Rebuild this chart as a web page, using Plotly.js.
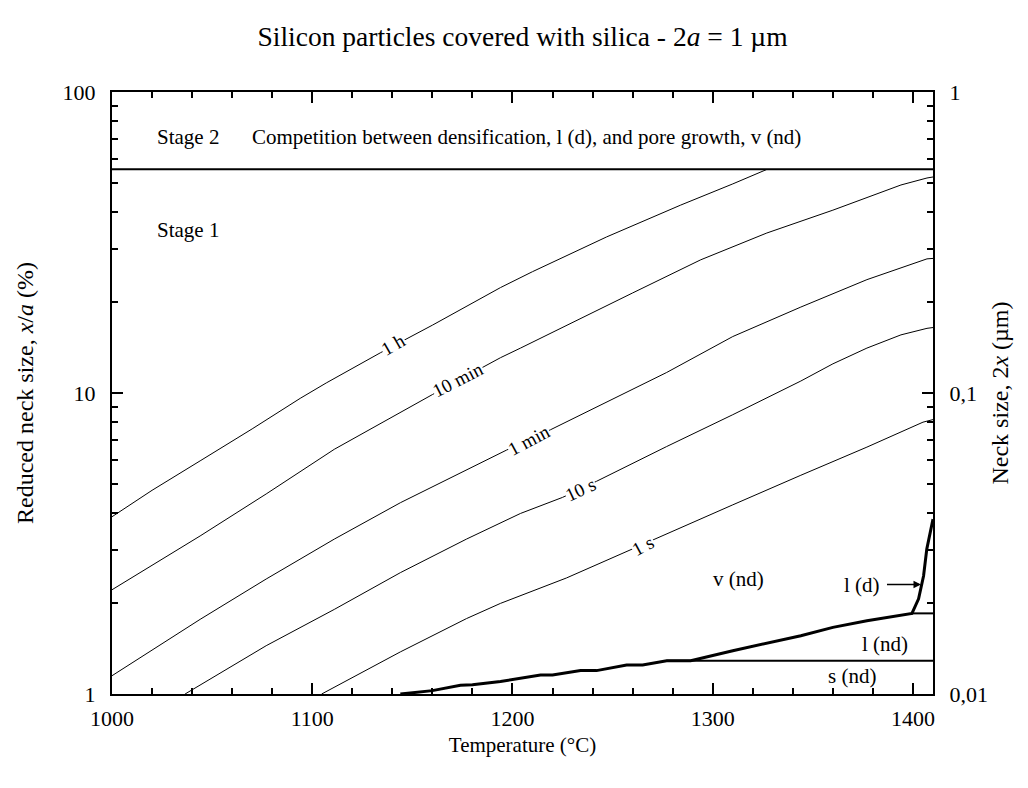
<!DOCTYPE html>
<html>
<head>
<meta charset="utf-8">
<script src="https://cdn.plot.ly/plotly-3.0.1.min.js"></script>
<style>html,body{margin:0;padding:0;background:#fff}</style>
</head>
<body>
<div id="chart" style="width:1028px;height:788px"></div>
<script>
// ---- Data ----
// iso-time curves: temperature (°C) and reduced neck size x/a (%)
const t1hX   = [1000, 1020, 1044, 1070, 1094, 1107, 1134, 1147, 1160, 1194, 1210, 1247, 1284, 1310, 1327];
const t1hY   = [3.88, 4.75, 5.95, 7.6, 9.6, 10.8, 13.6, 15.1, 16.8, 22.4, 25.3, 33.0, 42.1, 49.5, 55.3];
const t10mX  = [1000, 1044, 1077, 1111, 1160, 1194, 1204, 1227, 1260, 1294, 1327, 1360, 1394, 1407, 1410];
const t10mY  = [2.22, 3.35, 4.62, 6.5, 9.88, 13.1, 14.1, 16.8, 21.5, 27.7, 34.0, 40.5, 49.1, 51.8, 52.2];
const t1mX   = [1000, 1044, 1077, 1111, 1144, 1177, 1197, 1219, 1244, 1267, 1277, 1310, 1344, 1377, 1394, 1407, 1410];
const t1mY   = [1.15, 1.77, 2.41, 3.27, 4.32, 5.56, 6.46, 7.55, 9.12, 10.84, 11.7, 15.4, 19.3, 23.8, 26.0, 27.9, 28.0];
const t10sX  = [1036.5, 1077, 1111, 1144, 1177, 1194, 1204, 1225, 1242, 1277, 1310, 1344, 1360, 1377, 1394, 1407, 1410];
const t10sY  = [1.0, 1.447, 1.91, 2.53, 3.27, 3.70, 3.98, 4.50, 5.09, 6.64, 8.47, 10.96, 12.5, 14.1, 15.6, 16.4, 16.5];
const t1sX   = [1104.7, 1144, 1177, 1194, 1227, 1259, 1271, 1310, 1344, 1377, 1405, 1410];
const t1sY   = [1.0, 1.38, 1.78, 2.0, 2.43, 3.02, 3.27, 4.25, 5.33, 6.61, 8.0, 8.16];

// mechanism boundary (v(nd) / l(nd), then l(d))
const boundX = [1144, 1160, 1174, 1180, 1194, 1204, 1214, 1220, 1234, 1242, 1257, 1265, 1277, 1289, 1310, 1344, 1360, 1377, 1399.5, 1402.8, 1405.3, 1406.9, 1410];
const boundY = [1.0, 1.026, 1.07, 1.073, 1.10, 1.127, 1.157, 1.157, 1.196, 1.196, 1.249, 1.249, 1.29, 1.29, 1.393, 1.562, 1.665, 1.752, 1.853, 2.07, 2.47, 3.03, 3.81];

// horizontal boundaries
const ldBaseX = [1399.5, 1410];
const ldBaseY = [1.853, 1.853];
const snX = [1277, 1410];
const snY = [1.29, 1.29];
const stage2X = [1000, 1410];
const stage2Y = [55.4, 55.4];

// curve labels
const curveLabels = ['1 h', '10 min', '1 min', '10 s', '1 s'];
const labelX = [1140.5, 1173, 1208, 1234, 1265.4];
const labelY = [14.5, 11.07, 6.95, 4.78, 3.12];
const labelAngle = [-30, -27, -28, -25, -28];

// axis ticks
const xTicks = [1000, 1100, 1200, 1300, 1400];
const yTicks = [1, 10, 100];
const yTickText = ['1', '10', '100'];
const y2Ticks = [0.01, 0.1, 1];
const y2TickText = ['0,01', '0,1', '1'];

// ---- Plot ----
const FONT = 'Liberation Serif, Times New Roman, serif';
const thin = {color: '#000', width: 1};
const traces = [
  {x: t1hX, y: t1hY, mode: 'lines', line: thin},
  {x: t10mX, y: t10mY, mode: 'lines', line: thin},
  {x: t1mX, y: t1mY, mode: 'lines', line: thin},
  {x: t10sX, y: t10sY, mode: 'lines', line: thin},
  {x: t1sX, y: t1sY, mode: 'lines', line: thin},
  {x: boundX, y: boundY, mode: 'lines', line: {color: '#000', width: 3}},
  {x: ldBaseX, y: ldBaseY, mode: 'lines', line: {color: '#000', width: 2}},
  {x: snX, y: snY, mode: 'lines', line: {color: '#000', width: 2}},
  {x: stage2X, y: stage2Y, mode: 'lines', line: {color: '#000', width: 2}},
  {x: [1000], y: [0.05], yaxis: 'y2', mode: 'markers', marker: {opacity: 0}, hoverinfo: 'skip'}
];

const annotations = curveLabels.map((t, i) => ({
  x: labelX[i], y: Math.log10(labelY[i]), text: t, showarrow: false,
  textangle: labelAngle[i], bgcolor: '#fff', borderpad: 0,
  font: {family: FONT, size: 19, color: '#000'}
}));
const txt = (x, y, t, xa) => ({x: x, y: Math.log10(y), text: t, showarrow: false,
  xanchor: xa || 'center', yanchor: 'middle', font: {family: FONT, size: 21, color: '#000'}});
annotations.push(txt(1021.5, 70.8, 'Stage 2', 'left'));
annotations.push(txt(1069, 70.8, 'Competition between densification, l (d), and pore growth, v (nd)', 'left'));
annotations.push(txt(1021.5, 34.8, 'Stage 1', 'left'));
annotations.push(txt(1312.7, 2.41, 'v (nd)'));
annotations.push(txt(1385.8, 1.466, 'l (nd)'));
annotations.push(txt(1369.6, 1.15, 's (nd)'));
annotations.push({x: 1404, y: Math.log10(2.31), text: 'l (d) ', showarrow: true,
  ax: -34, ay: 0, xanchor: 'right', arrowhead: 2, arrowsize: 1, arrowwidth: 1.5,
  arrowcolor: '#000', standoff: 0, font: {family: FONT, size: 21, color: '#000'}});

const axisCommon = {
  showgrid: false, zeroline: false, showline: true, linecolor: '#000', linewidth: 2,
  ticks: 'inside', ticklen: 11, tickwidth: 2, tickcolor: '#000',
  tickfont: {family: FONT, size: 22, color: '#000'}
};

const layout = {
  width: 1028, height: 788,
  margin: {l: 112, r: 95, t: 92, b: 94},
  paper_bgcolor: '#fff', plot_bgcolor: '#fff',
  showlegend: false,
  font: {family: FONT, color: '#000'},
  title: {text: 'Silicon particles covered with silica - 2<i>a</i> = 1 µm',
    x: 0.5, xref: 'paper', xanchor: 'center', y: 1 - 36 / 788, yref: 'container', yanchor: 'middle',
    font: {family: FONT, size: 27.5, color: '#000'}},
  xaxis: Object.assign({}, axisCommon, {
    range: [1000, 1410], tickmode: 'array', tickvals: xTicks, mirror: 'ticks',
    ticklabelstandoff: 4,
    minor: {dtick: 20, ticks: 'inside', ticklen: 6, tickwidth: 2, tickcolor: '#000', showgrid: false},
    title: {text: 'Temperature (°C)', standoff: 7, font: {family: FONT, size: 21, color: '#000'}}
  }),
  yaxis: Object.assign({}, axisCommon, {
    type: 'log', range: [0, 2], tickmode: 'array', tickvals: yTicks, ticktext: yTickText,
    ticklabelstandoff: 10,
    minor: {dtick: 'D1', ticks: 'inside', ticklen: 6, tickwidth: 2, tickcolor: '#000', showgrid: false},
    title: {text: 'Reduced neck size, <i>x</i>/<i>a</i> (%)', standoff: 22, font: {family: FONT, size: 24, color: '#000'}}
  }),
  yaxis2: Object.assign({}, axisCommon, {
    type: 'log', range: [-2, 0], overlaying: 'y', side: 'right', anchor: 'x',
    tickmode: 'array', tickvals: y2Ticks, ticktext: y2TickText,
    ticklabelstandoff: 10,
    minor: {dtick: 'D1', ticks: 'inside', ticklen: 6, tickwidth: 2, tickcolor: '#000', showgrid: false},
    title: {text: 'Neck size, 2<i>x</i> (µm)', standoff: 4, font: {family: FONT, size: 24, color: '#000'}}
  }),
  annotations: annotations
};

Plotly.newPlot('chart', traces, layout, {displayModeBar: false, staticPlot: true});
</script>
</body>
</html>
